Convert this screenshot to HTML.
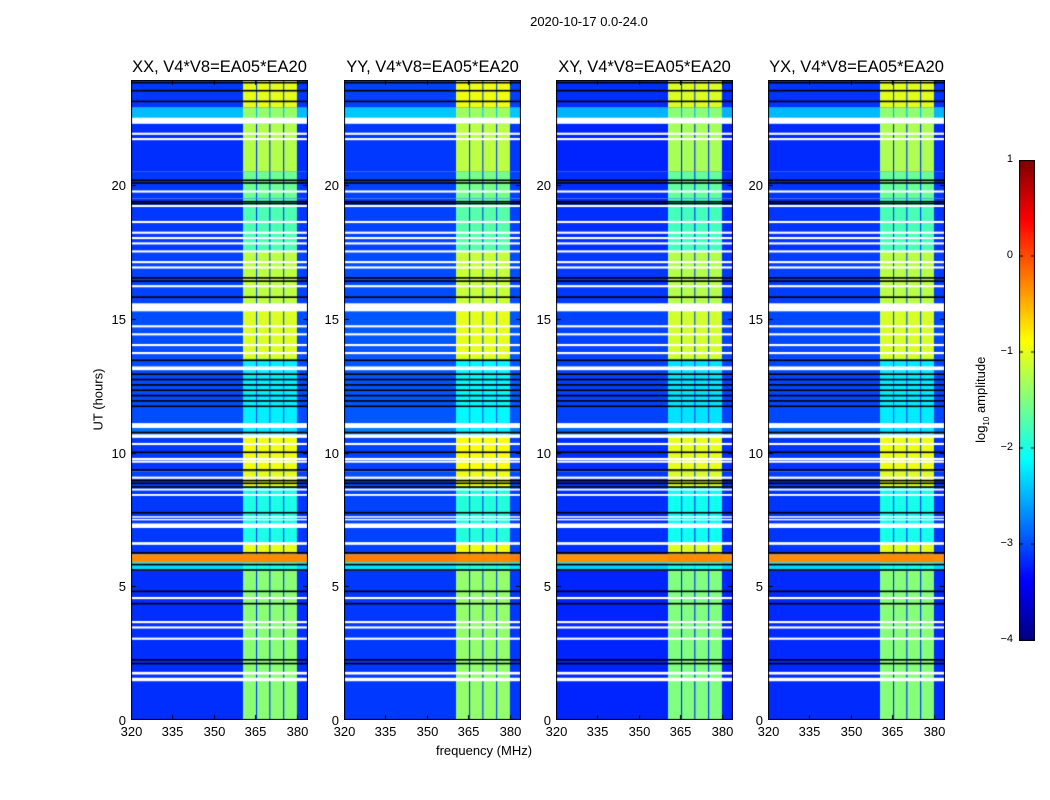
<!DOCTYPE html>
<html><head><meta charset="utf-8"><style>
body{margin:0;background:#fff;width:1050px;height:800px;overflow:hidden;font-family:"Liberation Sans",sans-serif;}
#root{position:relative;width:1050px;height:800px;}
.t{position:absolute;white-space:nowrap;color:#000;}
canvas{position:absolute;}
</style></head><body>
<div id="root">
<div class="t" style="left:489px;top:14px;width:200px;text-align:center;font-size:13px;">2020-10-17 0.0-24.0</div>
<div class="t" style="left:48px;top:392px;width:100px;text-align:center;font-size:13px;transform:rotate(-90deg);">UT (hours)</div>
<div class="t" style="left:384px;top:743px;width:200px;text-align:center;font-size:13px;">frequency (MHz)</div>
<div class="t" style="left:922px;top:391px;width:120px;text-align:center;font-size:13px;transform:rotate(-90deg);">log<sub style="font-size:8px">10</sub> amplitude</div>
<canvas id="cb" width="16" height="481" style="left:1019px;top:160px;"></canvas>
</div>
<script>
// ---- data ----
const panelTitles=["XX, V4*V8=EA05*EA20","YY, V4*V8=EA05*EA20","XY, V4*V8=EA05*EA20","YX, V4*V8=EA05*EA20"];
const panelOffset=[0,0.05,-0.05,-0.02];
const xTicks=[320,335,350,365,380];
const yTicks=[0,5,10,15,20];
const cbTicks=[1,0,-1,-2,-3,-4];
// frequency bands (MHz) with bright emission
const bandStart=[360.5,365.6,370.4,375.4];
const bandEnd=[365.2,370.0,375.0,380.0];
// time segments (hours): background level & band level (log10 amplitude)
const segStart=[0,5.6,5.9,6.2,6.6,8.7,9.3,10.6,11.0,13.5,15.3,15.5,17.5,19.5,20.5,22.3,22.9];
const segEnd  =[5.6,5.9,6.2,6.6,8.7,9.3,10.6,11.0,13.5,15.3,15.5,17.5,19.5,20.5,22.3,22.9,24];
const segBg   =[-3.15,-2.3,-0.3,-3.1,-3.1,-3.05,-3.1,-2.8,-3.0,-3.0,-2.6,-3.05,-3.1,-3.1,-3.15,-2.45,-3.1];
const segBand =[-1.45,-2.0,-0.5,-1.0,-2.0,-1.0,-0.95,-2.2,-2.2,-1.05,-1.5,-1.2,-1.75,-1.6,-1.25,-1.4,-1.0];
// flagged (white) rows [start,end] in hours
const whiteStart=[1.45,1.7,3.0,3.42,3.62,4.52,6.55,7.18,7.48,7.58,8.38,8.58,9.02,9.62,9.72,10.28,10.55,10.92,13.08,13.68,13.98,14.38,14.68,15.28,16.18,16.88,17.08,17.48,17.78,17.98,18.18,18.58,19.18,19.72,21.68,21.88,22.3];
const whiteEnd  =[1.58,1.8,3.08,3.5,3.7,4.6,6.65,7.35,7.52,7.62,8.45,8.65,9.1,9.7,9.8,10.36,10.68,11.1,13.22,13.76,14.06,14.46,14.76,15.58,16.26,16.96,17.16,17.56,17.86,18.06,18.26,18.66,19.26,19.8,21.76,21.96,22.52];
// zero / dark rows
const blackStart=[2.08,2.22,4.32,4.78,5.58,5.78,6.22,7.72,8.68,8.82,8.92,9.32,9.98,10.72,11.7,11.9,12.1,12.3,12.5,12.7,12.9,13.42,15.78,16.38,16.5,19.28,19.35,20.05,20.15,23.1,23.5,23.8];
const blackEnd  =[2.14,2.28,4.38,4.84,5.64,5.84,6.28,7.78,8.74,8.88,8.98,9.38,10.04,10.78,11.76,11.96,12.16,12.36,12.56,12.76,12.96,13.48,15.84,16.44,16.56,19.34,19.41,20.11,20.21,23.16,23.56,23.86];

// ---- layout ----
const panelX=[131,344,556,768], PY=80, PW=177, PH=640;
const xMin=320,xMax=384,yMin=0,yMax=23.93;
const xs=v=>(v-xMin)/(xMax-xMin)*PW;
const ys=h=>PH-(h-yMin)/(yMax-yMin)*PH;
function jet(v){const t=Math.max(0,Math.min(1,(v+4)/5));const c=x=>Math.round(255*Math.max(0,Math.min(1,x)));
 return `rgb(${c(1.5-Math.abs(4*t-3))},${c(1.5-Math.abs(4*t-2))},${c(1.5-Math.abs(4*t-1))})`;}
const root=document.getElementById('root');
function addText(txt,l,t,w,align,fs,name){const d=document.createElement('div');d.className='t';d.textContent=txt;
 d.style.cssText=`left:${l}px;top:${t}px;width:${w}px;text-align:${align};font-size:${fs}px;`;
 
 root.appendChild(d);}
panelTitles.forEach((title,p)=>{
 const cv=document.createElement('canvas');cv.width=PW;cv.height=PH;cv.style.left=panelX[p]+'px';cv.style.top=PY+'px';
 
 
 root.appendChild(cv);const g=cv.getContext('2d');
 for(let i=0;i<segStart.length;i++){const y0=ys(segEnd[i]),y1=ys(segStart[i]);
  g.fillStyle=jet(segBg[i]+panelOffset[p]);g.fillRect(0,y0,PW,y1-y0);
  for(let b=0;b<bandStart.length;b++){const x0=xs(bandStart[b]),x1=xs(bandEnd[b]);
   g.fillStyle=jet(Math.max(segBg[i],segBand[i]+panelOffset[p]));g.fillRect(x0,y0,x1-x0,y1-y0);}}
 g.fillStyle='#000';for(let i=0;i<blackStart.length;i++){const y0=ys(blackEnd[i]);g.fillRect(0,y0,PW,Math.max(1,ys(blackStart[i])-y0));}
 g.fillStyle='#fff';for(let i=0;i<whiteStart.length;i++){const y0=ys(whiteEnd[i]);g.fillRect(0,y0,PW,Math.max(1.5,ys(whiteStart[i])-y0));}
 g.strokeStyle='#000';g.lineWidth=1;g.strokeRect(0.5,0.5,PW-1,PH-1);
 xTicks.forEach(v=>{const x=Math.round(xs(v))+0.5;g.beginPath();g.moveTo(x,0);g.lineTo(x,5);g.moveTo(x,PH);g.lineTo(x,PH-5);g.stroke();
  addText(String(v),panelX[p]+x-20,PY+PH+4,40,'center',13,'x-tick-label');});
 yTicks.forEach(v=>{const y=Math.round(ys(v))+0.5;g.beginPath();g.moveTo(0,y);g.lineTo(5,y);g.moveTo(PW,y);g.lineTo(PW-5,y);g.stroke();
  addText(String(v),panelX[p]-45,PY+y-8,40,'right',13,'y-tick-label');});
 addText(title,panelX[p]-30,58,PW+60,'center',16.5,'panel-title');
});
// colorbar
const cb=document.getElementById('cb').getContext('2d');
for(let y=0;y<481;y++){cb.fillStyle=jet(1-5*y/480);cb.fillRect(0,y,16,1);}
cb.strokeStyle='#000';cb.strokeRect(0.5,0.5,15,480);
cbTicks.forEach(v=>{const y=160+(1-v)/5*480;addText(v<0?'\u2212'+(-v):String(v),960,y-7,53,'right',11,'colorbar-tick-label');
 cb.beginPath();cb.moveTo(0,y-160);cb.lineTo(4,y-160);cb.moveTo(16,y-160);cb.lineTo(12,y-160);cb.stroke();});
</script>
</body></html>
